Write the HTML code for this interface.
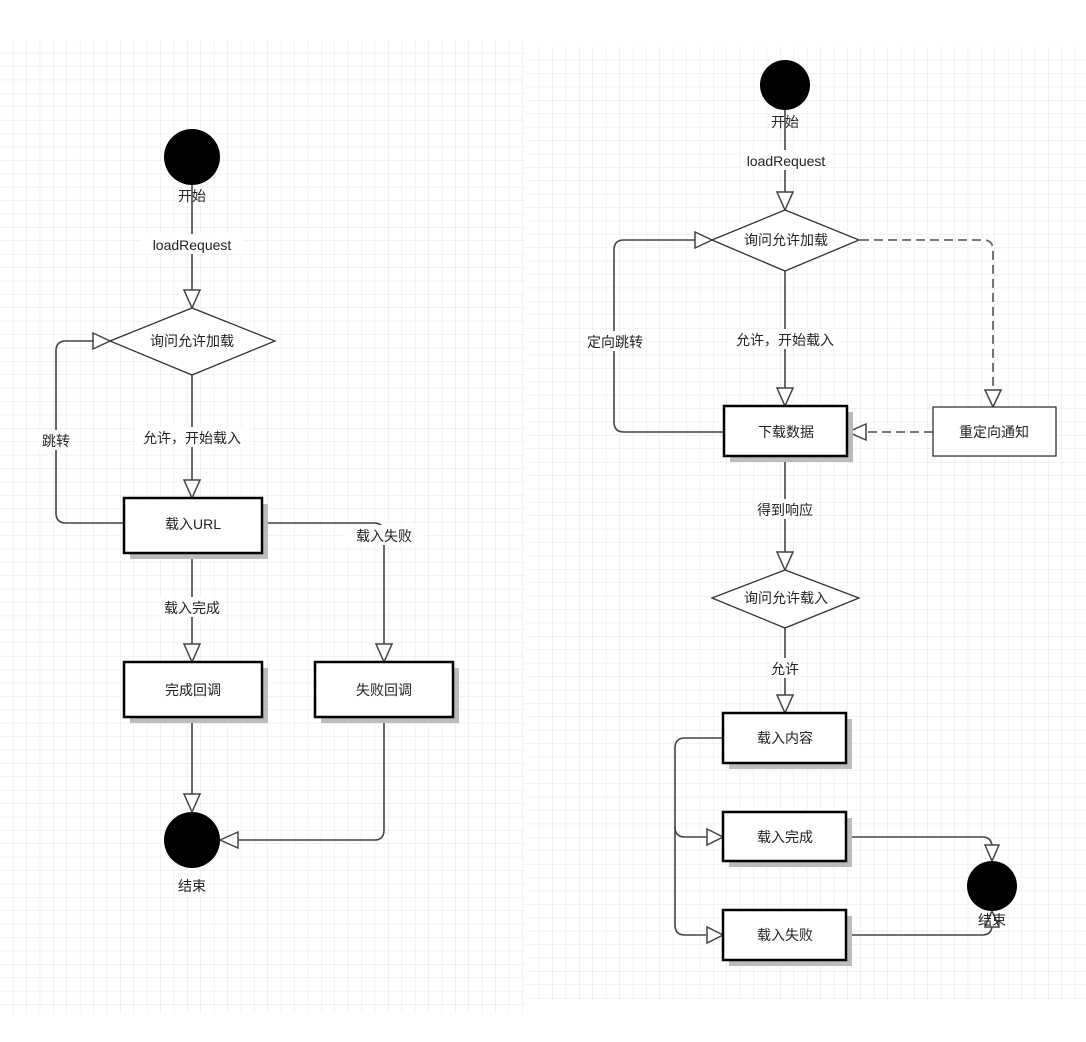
<!DOCTYPE html>
<html><head><meta charset="utf-8"><style>
html,body{margin:0;padding:0;background:#fff;}
text{font-family:"Liberation Sans","Noto Sans CJK SC",sans-serif;font-size:14px;fill:#222;}
</style></head><body>
<svg width="1086" height="1037" viewBox="0 0 1086 1037" xmlns="http://www.w3.org/2000/svg">
<defs>
<pattern id="g" width="13.4" height="13.4" patternUnits="userSpaceOnUse" x="0" y="40">
<path d="M13.4 0V13.4M0 13.4H13.4" stroke="#e6e6ea" stroke-width="1" fill="none"/>
</pattern>
<pattern id="g2" width="13.4" height="13.4" patternUnits="userSpaceOnUse" x="526" y="47">
<path d="M13.4 0V13.4M0 13.4H13.4" stroke="#e6e6ea" stroke-width="1" fill="none"/>
</pattern>
</defs>
<rect x="0" y="40" width="525" height="973" fill="url(#g)"/>
<rect x="526" y="47" width="560" height="953" fill="url(#g2)"/>
<g stroke="#444" stroke-width="1.6" fill="none">
<!-- left -->
<path d="M192 185V291"/>
<path d="M192 375V481"/>
<path d="M124 523H66Q56 523 56 513V351Q56 341 66 341H93"/>
<path d="M262 523H374Q384 523 384 533V645"/>
<path d="M192 553V645"/>
<path d="M192 717V795"/>
<path d="M384 717V830Q384 840 374 840H237"/>
<!-- right -->
<path d="M785 110V193"/>
<path d="M785 271V389"/>
<path d="M724 432H624Q614 432 614 422V250Q614 240 624 240H695"/>
<path d="M785 456V553"/>
<path d="M785 628V696"/>
<path d="M723 738H685Q675 738 675 748V925Q675 935 685 935H706"/>
<path d="M675 827Q675 837 685 837H706"/>
<path d="M846 837H982Q992 837 992 847V844"/>
<path d="M846 935H982Q992 935 992 925V928"/>
</g>
<g stroke="#666" stroke-width="1.8" fill="none" stroke-dasharray="9,5">
<path d="M860 240H983Q993 240 993 250V390"/>
<path d="M933 432H866"/>
</g>
<!-- arrowheads hollow -->
<g stroke="#444" stroke-width="1.5" fill="#fff">
<path d="M184 290L200 290L192 308Z"/>
<path d="M184 480L200 480L192 498Z"/>
<path d="M93 333L93 349L110 341Z"/>
<path d="M376 644L392 644L384 662Z"/>
<path d="M184 644L200 644L192 662Z"/>
<path d="M184 794L200 794L192 812Z"/>
<path d="M238 832L238 848L220 840Z"/>
<path d="M777 192L793 192L785 210Z"/>
<path d="M695 232L695 248L712 240Z"/>
<path d="M985 390L1001 390L993 407Z"/>
<path d="M866 424L866 440L848 432Z"/>
<path d="M777 388L793 388L785 406Z"/>
<path d="M777 552L793 552L785 570Z"/>
<path d="M777 695L793 695L785 713Z"/>
<path d="M707 829L707 845L723 837Z"/>
<path d="M707 927L707 943L723 935Z"/>
<path d="M985 845L999 845L992 861Z"/>
<path d="M985 927L999 927L992 911Z"/>
</g>
<!-- circles -->
<circle cx="192" cy="157" r="28" fill="#000"/>
<circle cx="192" cy="840" r="28" fill="#000"/>
<circle cx="785" cy="85" r="25" fill="#000"/>
<circle cx="992" cy="886" r="25" fill="#000"/>
<!-- diamonds -->
<path d="M110 341L192 308L275 341L192 375Z" fill="#fff" stroke="#333" stroke-width="1.3"/>
<path d="M712 240L785 210L859 240L785 271Z" fill="#fff" stroke="#333" stroke-width="1.3"/>
<path d="M712 598L785 570L859 598L785 628Z" fill="#fff" stroke="#333" stroke-width="1.3"/>
<!-- shadows -->
<g fill="#bbb">
<rect x="130" y="504" width="138" height="55"/>
<rect x="130" y="668" width="138" height="55"/>
<rect x="321" y="668" width="138" height="55"/>
<rect x="730" y="412" width="123" height="50"/>
<rect x="729" y="719" width="123" height="50"/>
<rect x="729" y="818" width="123" height="49"/>
<rect x="729" y="916" width="123" height="50"/>
</g>
<g fill="#fff" stroke="#000" stroke-width="2.5">
<rect x="124" y="498" width="138" height="55"/>
<rect x="124" y="662" width="138" height="55"/>
<rect x="315" y="662" width="138" height="55"/>
<rect x="724" y="406" width="123" height="50"/>
<rect x="723" y="713" width="123" height="50"/>
<rect x="723" y="812" width="123" height="49"/>
<rect x="723" y="910" width="123" height="50"/>
</g>
<rect x="933" y="407" width="123" height="49" fill="#fff" stroke="#222" stroke-width="1.2"/>
<!-- label backgrounds -->
<g fill="#fff">
<rect x="140" y="234" width="104" height="20"/>
<rect x="134" y="427" width="116" height="20"/>
<rect x="38" y="430" width="36" height="20"/>
<rect x="346" y="525" width="76" height="20"/>
<rect x="160" y="597" width="64" height="20"/>
<rect x="742" y="150" width="88" height="20"/>
<rect x="729" y="329" width="112" height="20"/>
<rect x="584" y="331" width="62" height="20"/>
<rect x="755" y="499" width="60" height="20"/>
<rect x="770" y="658" width="30" height="20"/>
</g>
<g text-anchor="middle">
<text x="192" y="201">开始</text>
<text x="192" y="250">loadRequest</text>
<text x="192" y="346">询问允许加载</text>
<text x="192" y="443">允许，开始载入</text>
<text x="56" y="446">跳转</text>
<text x="193" y="529">载入URL</text>
<text x="384" y="541">载入失败</text>
<text x="192" y="613">载入完成</text>
<text x="193" y="695">完成回调</text>
<text x="384" y="695">失败回调</text>
<text x="192" y="891">结束</text>
<text x="785" y="127">开始</text>
<text x="786" y="166">loadRequest</text>
<text x="786" y="245">询问允许加载</text>
<text x="785" y="345">允许，开始载入</text>
<text x="615" y="347">定向跳转</text>
<text x="786" y="437">下载数据</text>
<text x="994" y="437">重定向通知</text>
<text x="785" y="515">得到响应</text>
<text x="786" y="603">询问允许载入</text>
<text x="785" y="674">允许</text>
<text x="785" y="743">载入内容</text>
<text x="785" y="842">载入完成</text>
<text x="785" y="940">载入失败</text>
<text x="992" y="925">结束</text>
</g>
</svg>
</body></html>
